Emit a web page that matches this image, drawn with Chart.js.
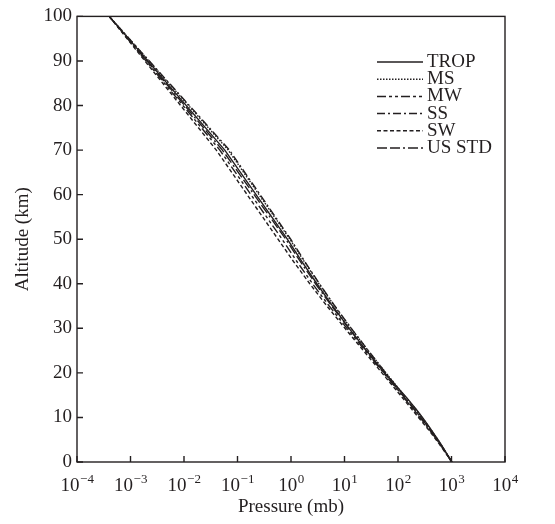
<!DOCTYPE html>
<html>
<head>
<meta charset="utf-8">
<script src="https://cdn.jsdelivr.net/npm/chart.js@4.4.1/dist/chart.umd.min.js"></script>
<style>
  html, body { margin: 0; padding: 0; background: #fff; }
  #wrap { width: 555px; height: 524px; }
</style>
</head>
<body>
<div id="wrap"><canvas id="profile-chart" width="555" height="524"></canvas></div>
<script>
// altitude levels (km) of the model atmospheres
const altitudes = [0, 1, 2, 3, 4, 5, 6, 7, 8, 9, 10, 11, 12, 13, 14, 15, 16, 17, 18, 19, 20,
  21, 22, 23, 24, 25, 30, 35, 40, 45, 50, 70, 100];

// pressure (mb) for each model
const tropPressure = [1013, 904, 805, 715, 633, 559, 492, 432, 378, 329, 286, 247, 213, 182, 156,
  132, 111, 93.7, 78.9, 66.6, 56.5, 48.0, 40.9, 35.0, 30.0, 25.7, 12.2, 6.00, 3.05, 1.59, 0.854, 0.0579, 0.0004];
const msPressure = [1013, 902, 802, 710, 628, 554, 487, 426, 372, 324, 281, 243, 209, 179, 153,
  130, 111, 95.0, 81.2, 69.5, 59.5, 51.0, 43.7, 37.6, 32.2, 27.7, 13.2, 6.52, 3.33, 1.76, 0.951, 0.0671, 0.0004];
const mwPressure = [1018, 897.3, 789.7, 693.8, 608.1, 531.3, 462.7, 401.6, 347.3, 299.2, 256.8, 219.9,
  188.2, 161.0, 137.8, 117.8, 100.7, 86.1, 73.5, 62.8, 53.7, 45.8, 39.1, 33.4, 28.6, 24.3, 11.1, 5.18,
  2.53, 1.29, 0.682, 0.0467, 0.0004];
const ssPressure = [1010, 896, 792.9, 700, 616, 541, 474, 413, 359, 310.8, 267.7, 230, 197.7, 170,
  146, 126, 108, 92.8, 79.8, 68.6, 59.0, 50.7, 43.6, 37.5, 32.28, 27.8, 13.4, 6.61, 3.40, 1.81, 0.987, 0.0707, 0.0004];
const swPressure = [1013, 887.8, 777.5, 679.8, 593.2, 515.8, 446.7, 385.3, 330.8, 282.9, 241.8, 206.7,
  176.6, 151.0, 129.1, 110.3, 94.31, 80.58, 68.82, 58.75, 50.14, 42.77, 36.47, 31.09, 26.49, 22.56, 10.2,
  4.701, 2.243, 1.113, 0.5719, 0.04016, 0.0004];
const usStdPressure = [1013, 898.6, 795, 701.2, 616.6, 540.5, 472.2, 411.1, 356.5, 308, 265, 227, 194,
  165.8, 141.7, 121.1, 103.5, 88.5, 75.65, 64.67, 55.29, 47.29, 40.47, 34.67, 29.72, 25.49, 11.97, 5.746,
  2.871, 1.491, 0.7978, 0.0522, 0.0004];

const seriesNames = ['TROP', 'MS', 'MW', 'SS', 'SW', 'US STD'];
const seriesData = [tropPressure, msPressure, mwPressure, ssPressure, swPressure, usStdPressure];
const seriesDash = [[], [1.5, 1.5], [9, 3, 3, 3, 3, 3], [8, 3, 2, 3], [4, 2.5], [10, 3, 10, 3, 2, 3]];

const xExponents = [-4, -3, -2, -1, 0, 1, 2, 3, 4];
const yTicks = [0, 10, 20, 30, 40, 50, 60, 70, 80, 90, 100];

const inkColor = '#231f20';
const serif = '"Liberation Serif", "DejaVu Serif", serif';

// frame, inward tick marks, 10^n labels and the legend box
const framePlugin = {
  id: 'framePlugin',
  afterDatasetsDraw(chart) {
    const ctx = chart.ctx;
    const area = chart.chartArea;
    const xs = chart.scales.x;
    const ys = chart.scales.y;
    ctx.save();
    ctx.strokeStyle = inkColor;
    ctx.lineWidth = 1.4;
    ctx.setLineDash([]);
    ctx.strokeRect(area.left, area.top, area.right - area.left, area.bottom - area.top);

    ctx.beginPath();
    xExponents.forEach((e) => {
      const px = xs.getPixelForValue(Math.pow(10, e));
      ctx.moveTo(px, area.bottom);
      ctx.lineTo(px, area.bottom - 6);
    });
    yTicks.forEach((v) => {
      const py = ys.getPixelForValue(v);
      ctx.moveTo(area.left, py);
      ctx.lineTo(area.left + 6, py);
    });
    ctx.stroke();

    // x tick labels with raised exponent
    ctx.fillStyle = inkColor;
    ctx.textBaseline = 'alphabetic';
    ctx.textAlign = 'left';
    xExponents.forEach((e) => {
      const px = xs.getPixelForValue(Math.pow(10, e));
      const exp = e < 0 ? '\u2212' + Math.abs(e) : String(e);
      ctx.font = '19px ' + serif;
      const baseW = ctx.measureText('10').width;
      ctx.font = '13px ' + serif;
      const expW = ctx.measureText(exp).width;
      const startX = px - (baseW + expW) / 2;
      ctx.font = '19px ' + serif;
      ctx.fillText('10', startX, area.bottom + 29);
      ctx.font = '13px ' + serif;
      ctx.fillText(exp, startX + baseW + 0.5, area.bottom + 21);
    });

    // legend
    ctx.font = '19px ' + serif;
    ctx.textBaseline = 'middle';
    ctx.lineWidth = 1.5;
    seriesNames.forEach((name, i) => {
      const ly = 62 + i * 17.2;
      ctx.setLineDash(seriesDash[i]);
      ctx.beginPath();
      ctx.moveTo(377, ly);
      ctx.lineTo(423, ly);
      ctx.stroke();
      ctx.fillText(name, 427, ly);
    });
    ctx.restore();
  },
};

function setupProfileChart() {
  const ctx = document.getElementById('profile-chart').getContext('2d');
  new Chart(ctx, {
    type: 'line',
    data: {
      datasets: seriesNames.map((name, i) => ({
        label: name,
        data: altitudes.map((h, k) => ({ x: seriesData[i][k], y: h })),
        borderColor: inkColor,
        borderWidth: 1.4,
        borderDash: seriesDash[i],
        pointRadius: 0,
        fill: false,
        tension: 0,
      })),
    },
    options: {
      responsive: false,
      animation: false,
      events: [],
      layout: { padding: { top: 15, right: 50, left: 0, bottom: 0 } },
      plugins: {
        legend: { display: false },
        tooltip: { enabled: false },
      },
      scales: {
        x: {
          type: 'logarithmic',
          min: 1e-4,
          max: 1e4,
          grid: { display: false, drawTicks: false },
          border: { display: false },
          afterBuildTicks: (scale) => {
            scale.ticks = xExponents.map((e) => ({ value: Math.pow(10, e) }));
          },
          afterFit: (scale) => { scale.height = 62; },
          ticks: { display: false },
          title: {
            display: true,
            text: 'Pressure (mb)',
            color: inkColor,
            font: { family: serif, size: 19 },
            padding: { top: 0, bottom: 6 },
          },
        },
        y: {
          type: 'linear',
          min: 0,
          max: 100,
          grid: { display: false, drawTicks: false },
          border: { display: false },
          afterBuildTicks: (scale) => {
            scale.ticks = yTicks.map((v) => ({ value: v }));
          },
          afterFit: (scale) => { scale.width = 77; },
          ticks: {
            padding: 5,
            color: inkColor,
            font: { family: serif, size: 19 },
          },
          title: {
            display: true,
            text: 'Altitude (km)',
            color: inkColor,
            font: { family: serif, size: 19 },
            padding: { top: 12, bottom: 0 },
          },
        },
      },
    },
    plugins: [framePlugin],
  });
}

document.addEventListener('DOMContentLoaded', setupProfileChart);
</script>
</body>
</html>
